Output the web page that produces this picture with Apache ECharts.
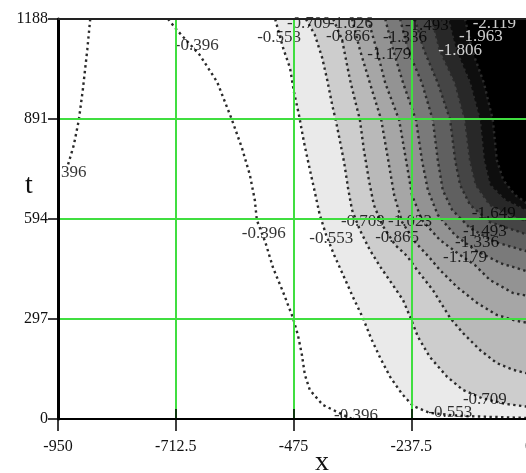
<!DOCTYPE html>
<html><head><meta charset="utf-8">
<script src="https://cdn.jsdelivr.net/npm/echarts@6/dist/echarts.min.js"></script>
<style>html,body{margin:0;padding:0;background:#fff}#c{width:526px;height:473px}</style>
</head><body><div id="c"></div>
<script>
// ---- axes ----
const xTicks = [-950, -712.5, -475, -237.5, 0];
const tTicks = [0, 297, 594, 891, 1188];

// ---- contour levels (labels) ----
const levels = ['-0.396','-0.553','-0.709','-0.866','-1.023','-1.179','-1.336','-1.493','-1.649','-1.806','-1.963','-2.119'];

// ---- contour paths [x, t] ----
const c0396 = [[-728,1188],[-710,1155],[-664,1081],[-629,1001],[-599,888],[-579,805],[-563,725],[-553,650],[-549,591],[-532,526],[-516,448],[-496,377],[-476,300],[-466,249],[-458,190],[-452,131],[-442,86],[-416,42],[-387,21],[-357,0]];
const c0396b = [[-885,1188],[-891,1096],[-900,977],[-908,888],[-918,814],[-930,754]];
const c0553 = [[-512,1188],[-496,1102],[-482,1042],[-474,971],[-464,903],[-454,823],[-444,754],[-432,674],[-422,606],[-409,546],[-393,487],[-375,428],[-355,362],[-335,300],[-319,241],[-300,181],[-280,125],[-256,74],[-234,39],[-200,18],[-139,9],[0,3]];
const c0709 = [[-450,1188],[-432,1141],[-417,1072],[-407,1007],[-397,933],[-389,882],[-381,823],[-373,763],[-365,686],[-357,621],[-341,561],[-321,502],[-300,452],[-276,401],[-254,353],[-238,297],[-224,244],[-200,184],[-165,125],[-133,86],[-95,62],[-48,45],[0,36]];
const c0866 = [[-395,1188],[-377,1126],[-361,1007],[-351,947],[-341,888],[-333,799],[-323,710],[-313,636],[-296,576],[-270,517],[-246,484],[-226,443],[-194,383],[-159,300],[-133,255],[-99,205],[-65,166],[-32,146],[0,134]];
const c1023 = [[-357,1188],[-341,1096],[-321,998],[-298,888],[-284,769],[-272,665],[-256,585],[-230,526],[-200,478],[-180,443],[-145,392],[-105,345],[-65,309],[-24,291],[0,285]];
const c1179 = [[-325,1188],[-307,1096],[-290,998],[-262,888],[-248,769],[-236,665],[-216,591],[-180,532],[-139,487],[-109,457],[-79,413],[-32,374],[0,365]];
const c1336 = [[-290,1188],[-274,1096],[-254,998],[-228,888],[-216,769],[-204,680],[-184,606],[-149,546],[-109,502],[-58,463],[0,437]];
const c1493 = [[-260,1188],[-244,1096],[-216,998],[-194,888],[-184,769],[-174,680],[-155,621],[-119,567],[-69,526],[0,496]];
const c1649 = [[-230,1188],[-212,1096],[-184,998],[-159,888],[-149,769],[-139,695],[-119,636],[-79,585],[0,546]];
const c1806 = [[-196,1188],[-180,1096],[-149,998],[-129,888],[-119,769],[-107,695],[-79,636],[-38,606],[0,585]];
const c1963 = [[-163,1188],[-147,1096],[-119,998],[-99,888],[-91,769],[-79,695],[-48,650],[0,615]];
const c2119 = [[-129,1188],[-115,1096],[-91,998],[-73,888],[-65,769],[-52,710],[-28,665],[0,636]];

// ---- contour labels [x, t, text] ----
const contourLabels = [
  [-670,1108,'-0.396'],[-504,1132,'-0.553'],[-444,1176,'-0.709'],[-359,1176,'-1.026'],
  [-365,1135,'-0.866'],[-250,1132,'-1.336'],[-206,1170,'-1.493'],[-282,1081,'-1.179'],
  [-139,1093,'-1.806'],[-97,1135,'-1.963'],[-70,1176,'-2.119'],
  [-535,552,'-0.396'],[-399,535,'-0.553'],[-335,585,'-0.709'],[-240,585,'-1.023'],
  [-266,538,'-0.865'],[-71,609,'-1.649'],[-89,558,'-1.493'],[-105,523,'-1.336'],[-129,481,'-1.179'],
  [-349,9,'-0.396'],[-159,18,'-0.553'],[-89,59,'-0.709'],
  [-918,731,'396']
];

// ---- styles ----
const fillPaths = [c0553,c0709,c0866,c1023,c1179,c1336,c1493,c1649,c1806,c1963,c2119];
const fillColors = ['#eaeaea','#cdcdcd','#b9b9b9','#a6a6a6','#939393','#7a7a7a','#606060','#454545','#282828','#0e0e0e','#000000'];
const linePaths = [c0396,c0396b,c0553,c0709,c0866,c1023,c1179,c1336,c1493,c1649,c1806,c1963,c2119];
const whiteText = new Set(['-1.806','-1.963','-2.119']);
const GREEN = '#40de40';
const SERIF = '"Liberation Serif", "Times New Roman", serif';

const xMin = xTicks[0], xMax = xTicks[xTicks.length-1];
const tMin = tTicks[0], tMax = tTicks[tTicks.length-1];
const xStep = xTicks[1]-xTicks[0], tStep = tTicks[1]-tTicks[0];

const series = [];
fillPaths.forEach((pts, i) => {
  series.push({
    type:'custom', silent:true, z:1, clip:false,
    data:[pts[0]],
    renderItem:(params, api) => {
      const p = pts.map(q => api.coord(q));
      p.push(api.coord([xMax, tMax]));
      return {type:'polygon', shape:{points:p}, style:{fill:fillColors[i], stroke:null}};
    }
  });
});
linePaths.forEach(pts => {
  series.push({
    type:'line', data:pts, showSymbol:false, symbol:'none', silent:true, z:3,
    lineStyle:{color:'#2a2a2a', width:2.4, type:[2.4,3.4]}
  });
});
series.push({
  type:'scatter', z:4, silent:true, symbolSize:1,
  itemStyle:{color:'rgba(0,0,0,0)'},
  label:{show:true, position:'inside', formatter:p => p.value[2], fontFamily:SERIF, fontSize:17, color:'#000'},
  data: contourLabels.map(l => whiteText.has(l[2]) ? {value:l, label:{color:'#fff'}} : {value:l})
});

const labelFont = {fontFamily:SERIF, fontSize:16, color:'#111'};
const chart = echarts.init(document.getElementById('c'), null, {renderer:'canvas'});
chart.setOption({
  animation:false,
  backgroundColor:'#fff',
  grid:{left:58, top:19, width:471, height:400, containLabel:false, outerBoundsMode:'none'},
  xAxis:[
    {type:'value', min:xMin, max:xMax, interval:xStep, position:'bottom', z:10,
     axisLine:{show:true, onZero:false, lineStyle:{color:'#000', width:2}},
     axisTick:{show:true, inside:false, length:12, lineStyle:{color:'#000', width:1.5}},
     axisLabel:Object.assign({margin:20, formatter:v => String(v)}, labelFont),
     splitLine:{show:true, showMinLine:false, showMaxLine:false, lineStyle:{color:GREEN, width:2}}},
    {type:'value', min:xMin, max:xMax, interval:xStep, position:'bottom', z:10,
     axisLine:{show:false}, axisTick:{show:true, inside:true, length:10, lineStyle:{color:'#000', width:1.5}},
     axisLabel:{show:false}, splitLine:{show:false}},
    {type:'value', min:xMin, max:xMax, interval:xStep, position:'top', z:10,
     axisLine:{show:true, onZero:false, lineStyle:{color:'#222', width:2}},
     axisTick:{show:false}, axisLabel:{show:false}, splitLine:{show:false}}
  ],
  yAxis:[
    {type:'value', min:tMin, max:tMax, interval:tStep, position:'left', z:10,
     axisLine:{show:true, onZero:false, lineStyle:{color:'#000', width:3}},
     axisTick:{show:true, inside:false, length:10, lineStyle:{color:'#000', width:1.5}},
     axisLabel:Object.assign({margin:10, formatter:v => String(v)}, labelFont),
     splitLine:{show:true, showMinLine:false, showMaxLine:false, lineStyle:{color:GREEN, width:2}}},
    {type:'value', min:tMin, max:tMax, interval:tStep, position:'left', z:10,
     axisLine:{show:false}, axisTick:{show:true, inside:true, length:11, lineStyle:{color:'#000', width:1.5}},
     axisLabel:{show:false}, splitLine:{show:false}}
  ],
  graphic:[
    {type:'text', x:322, y:463, z:20, style:{text:'x', font:'28px ' + SERIF, fill:'#111', align:'center', verticalAlign:'middle'}},
    {type:'text', x:29, y:186, z:20, style:{text:'t', font:'28px ' + SERIF, fill:'#111', align:'center', verticalAlign:'middle'}}
  ],
  series: series
});
</script></body></html>
